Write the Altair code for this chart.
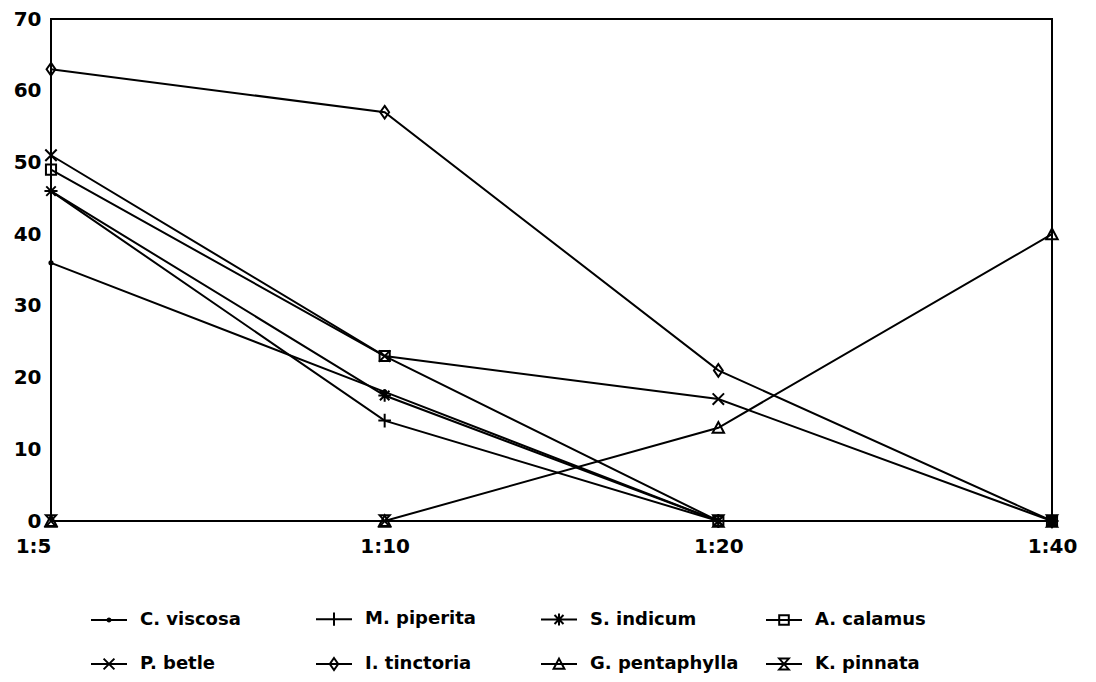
import altair as alt
import pandas as pd

concentrations = ["1:5", "1:10", "1:20", "1:40"]
species = ["C. viscosa", "M. piperita", "S. indicum", "A. calamus",
           "P. betle", "I. tinctoria", "G. pentaphylla", "K. pinnata"]

c_viscosa = [36, 18, 0, 0]
m_piperita = [46, 14, 0, 0]
s_indicum = [46, 17.5, 0, 0]
a_calamus = [49, 23, 0, 0]
p_betle = [51, 23, 17, 0]
i_tinctoria = [63, 57, 21, 0]
g_pentaphylla = [0, 0, 13, 40]
k_pinnata = [0, 0, 0, 0]

series = [c_viscosa, m_piperita, s_indicum, a_calamus,
          p_betle, i_tinctoria, g_pentaphylla, k_pinnata]

rows = []
for name, vals in zip(species, series):
    for i, (c, v) in enumerate(zip(concentrations, vals)):
        rows.append({"species": name, "legend_species": name, "conc": c, "idx": i, "val": v})
df = pd.DataFrame(rows)

marker_paths = [
    "M-0.25,0A0.25,0.25 0 1,0 0.25,0A0.25,0.25 0 1,0 -0.25,0",
    "M-1,0L1,0M0,-1.1L0,1.1",
    "M-1,0L1,0M0,-1L0,1M-0.75,-0.75L0.75,0.75M-0.75,0.75L0.75,-0.75",
    "M-0.8,-0.8L0.8,-0.8L0.8,0.8L-0.8,0.8Z",
    "M-0.9,-0.9L0.9,0.9M-0.9,0.9L0.9,-0.9",
    "M0,-1L0.7,0L0,1L-0.7,0Z",
    "M0,-0.9L0.9,0.8L-0.9,0.8Z",
    "M-0.8,-0.9L0.8,-0.9L-0.8,0.9L0.8,0.9Z",
]
legend_paths = [p + "M-3,0L3,0" for p in marker_paths]

FONT = "DejaVu Sans"

x_enc = alt.X(
    "conc:N",
    sort=concentrations,
    scale=alt.Scale(type="point", padding=0),
    axis=alt.Axis(
        title=None, labelAngle=0, grid=False, ticks=False, domain=False,
        labelFont=FONT, labelFontSize=20, labelFontWeight="bold", labelColor="black",
        labelPadding=15,
        labelAlign=alt.ExprRef("datum.value == '1:5' ? 'right' : 'center'"),
        labelFlush=False,
    ),
)
y_enc = alt.Y(
    "val:Q",
    scale=alt.Scale(domain=[0, 70], nice=False),
    axis=alt.Axis(
        title=None, values=[0, 10, 20, 30, 40, 50, 60, 70], grid=False, ticks=False,
        domain=False, labelFont=FONT, labelFontSize=20, labelFontWeight="bold",
        labelColor="black", labelPadding=10,
    ),
)

lines = alt.Chart(df).mark_line(color="black", strokeWidth=2).encode(
    x=x_enc, y=y_enc, detail="species:N", order=alt.Order("idx:Q")
)

points = alt.Chart(df).mark_point(filled=False, color="black", strokeWidth=2, size=160, opacity=1).encode(
    x=x_enc, y=y_enc,
    shape=alt.Shape("species:N", scale=alt.Scale(domain=species, range=marker_paths), legend=None),
)

legend_layer = alt.Chart(df).mark_point(filled=False, color="black", opacity=0).encode(
    x=x_enc, y=y_enc,
    shape=alt.Shape(
        "legend_species:N",
        scale=alt.Scale(domain=species, range=legend_paths),
        legend=alt.Legend(
            title=None, orient="none", legendX=49, legendY=591, columns=4,
            direction="horizontal", gridAlign="all", columnPadding=23, rowPadding=24,
            symbolSize=144, symbolStrokeWidth=2, symbolStrokeColor="black",
            symbolFillColor="transparent", symbolOpacity=1, labelOffset=22,
            labelFont=FONT, labelFontSize=18, labelFontWeight="bold", labelColor="black",
            padding=0,
        ),
    ),
)

chart = (
    alt.layer(lines, points, legend_layer)
    .resolve_scale(shape="independent")
    .properties(
        width=1001, height=502,
        autosize=alt.AutoSizeParams(type="none"),
        padding={"left": 43, "top": 11, "right": 36, "bottom": 160},
    )
    .configure(background="white")
    .configure_view(stroke="black", strokeWidth=2)
)

chart.save("out.html", embed_options={"renderer": "svg", "actions": False})
